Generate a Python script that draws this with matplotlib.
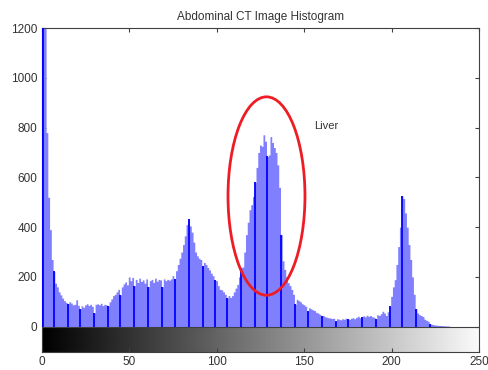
import numpy as np
import matplotlib
matplotlib.use('Agg')
import matplotlib.pyplot as plt
import matplotlib.patches as patches

# histogram counts for intensity 0..255
counts = [
    1400, 1350, 1250, 780, 520, 390, 270, 222, 175, 160, 140, 128, 115, 105, 98, 92,
    100, 95, 88, 90, 108, 86, 72, 84, 78, 88, 92, 85, 90, 82, 56, 90,
    92, 88, 94, 85, 90, 88, 84, 100, 112, 125, 130, 140, 150, 128, 160, 172,
    180, 168, 200, 185, 198, 165, 190, 178, 195, 182, 188, 175, 192, 161, 185, 190,
    178, 195, 183, 190, 188, 161, 192, 185, 190, 187, 192, 205, 193, 225, 250, 275,
    300, 330, 365, 410, 433, 405, 380, 340, 300, 285, 275, 270, 245, 258, 250, 238,
    228, 215, 205, 189, 185, 165, 150, 148, 140, 130, 116, 125, 118, 125, 140, 155,
    170, 200, 237, 240, 300, 370, 420, 470, 490, 523, 580, 640, 700, 730, 725, 771,
    745, 684, 690, 764, 740, 720, 700, 650, 560, 370, 265, 230, 200, 177, 165, 150,
    130, 90, 110, 105, 100, 92, 88, 82, 62, 76, 72, 68, 65, 58, 55, 50,
    44, 45, 40, 38, 36, 35, 33, 34, 21, 32, 30, 28, 32, 30, 34, 31,
    30, 34, 36, 32, 38, 42, 36, 39, 44, 40, 46, 42, 45, 40, 38, 31,
    48, 45, 52, 62, 55, 45, 60, 82, 122, 160, 189, 250, 322, 400, 526, 515,
    457, 400, 330, 270, 200, 130, 72, 55, 48, 45, 41, 30, 26, 22, 12, 10,
    8, 7, 6, 5, 5, 4, 4, 3, 3, 2, 0, 0, 0, 0, 0, 0,
    0, 0, 0, 0, 0, 0, 0, 0, 0, 0, 0, 0, 0, 0, 0, 0,
]
# stems that show up dark in the rendered picture
stem_bins = [0, 1, 7, 15, 22, 30, 38, 45, 53, 61, 69, 76, 84, 92, 99, 106, 114,
             122, 129, 137, 145, 152, 160, 168, 175, 183, 191, 199, 206, 214, 222]

title = 'Abdominal CT Image Histogram'
label = 'Liver'

plt.rcParams['font.family'] = ['Liberation Sans', 'DejaVu Sans']

bins = np.arange(256)
counts = np.array(counts)

fig = plt.figure(figsize=(4.89, 3.70), dpi=100)
ax = fig.add_axes([0.0853, 0.0497, 0.8943, 0.8746])

ax.fill_between(bins, counts, step='mid', color='#8080ff', lw=0, zorder=2)
ax.vlines(stem_bins, 0, counts[stem_bins], color='#0000ff', lw=1.3, zorder=3)

# grayscale bar under the histogram
grad = np.linspace(0, 1, 256).reshape(1, -1)
ax.imshow(grad, cmap='gray', aspect='auto', extent=(0, 255, -100, 0), zorder=1)
ax.axhline(0, color='#404040', lw=0.8, zorder=4)

ax.add_patch(patches.Ellipse((128.5, 525), 44, 797, fill=False,
                             edgecolor='#ee1c24', lw=2, zorder=5))
ax.text(156, 806, label, fontsize=8, color='#333333', ha='left', va='center')

ax.set_xlim(0, 250)
ax.set_ylim(-100, 1200)
ax.set_xticks([0, 50, 100, 150, 200, 250])
ax.set_yticks([0, 200, 400, 600, 800, 1000, 1200])
ax.tick_params(direction='in', top=True, right=True, length=3, width=0.8,
               labelsize=8.5, labelcolor='#333333', color='#404040', pad=3)
for s in ax.spines.values():
    s.set_color('#404040')
    s.set_linewidth(0.8)

ax.set_title(title, fontsize=8.5, color='#333333', pad=6)

fig.savefig('out.png', dpi=100)
